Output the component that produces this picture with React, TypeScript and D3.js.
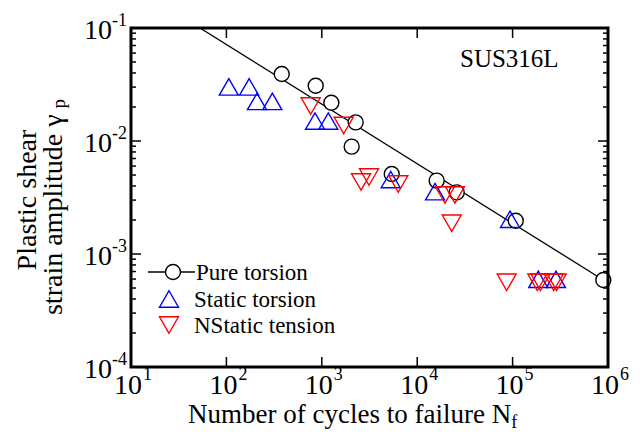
import React from 'react';
import * as d3 from 'd3';

// Pure torsion (circles)
const pureN = [380, 863, 1259, 2265, 2056, 5408, 16000, 25940, 107900, 893000];
const pureG = [0.0392, 0.0308, 0.0218, 0.01462, 0.00891, 0.0051, 0.00446, 0.00351, 0.00197, 0.000589];

// Static torsion (blue up triangles)
const staticTorN = [106, 173, 209, 303, 849, 1170, 5277, 15380, 94000, 185800, 285000];
const staticTorG = [0.0301, 0.0301, 0.0224, 0.0224, 0.01503, 0.01503, 0.00456, 0.00356, 0.00203, 0.000597, 0.000597];

// NStatic tension (red down triangles)
const staticTenN = [765, 1698, 2576, 3126, 6340, 19540, 24880, 23010, 86700, 181600, 196000, 270000, 290000];
const staticTenG = [0.0204, 0.01371, 0.00434, 0.0048, 0.00416, 0.00333, 0.00333, 0.00187, 0.000562, 0.000562, 0.000562, 0.000562, 0.000562];

// fitted line end points
const fitN = [52.8, 893000];
const fitG = [0.1, 0.000589];

const xTicks = [1e1, 1e2, 1e3, 1e4, 1e5, 1e6];
const xExp = ['1', '2', '3', '4', '5', '6'];
const yTicks = [1e-1, 1e-2, 1e-3, 1e-4];
const yExp = ['-1', '-2', '-3', '-4'];

const legendLabels = ['Pure torsion', 'Static torsion', 'NStatic tension'];

const W = 640;
const H = 434;
const L = 131, R = 608, T = 28, B = 367;
const FONT = 'Liberation Serif, Times New Roman, serif';

const x = d3.scaleLog().domain([10, 1e6]).range([L, R]);
const y = d3.scaleLog().domain([1e-4, 1e-1]).range([B, T]);

const TRI = 19; // side length
const th = (TRI * Math.sqrt(3)) / 2;
const upTri = (cx: number, cy: number) =>
  `M${cx},${cy - th / 2}L${cx + TRI / 2},${cy + th / 2}L${cx - TRI / 2},${cy + th / 2}Z`;
const downTri = (cx: number, cy: number) =>
  `M${cx},${cy + th / 2}L${cx + TRI / 2},${cy - th / 2}L${cx - TRI / 2},${cy - th / 2}Z`;

export default function App() {
  const minorY = y.ticks().filter((t) => !yTicks.some((m) => Math.abs(m - t) / m < 1e-6));
  const fitLine = d3
    .line<number>()
    .x((_, i) => x(fitN[i]))
    .y((_, i) => y(fitG[i]));

  return (
    <div style={{ position: 'absolute', left: 0, top: 0 }}>
      <svg width={W} height={H} style={{ display: 'block', background: '#fff', fontFamily: FONT }}>
        <defs>
          <clipPath id="plot">
            <rect x={L} y={T} width={R - L} height={B - T} />
          </clipPath>
        </defs>

        {/* ticks */}
        {xTicks.map((t, i) => (
          <g key={'xt' + i}>
            <line x1={x(t)} x2={x(t)} y1={B} y2={B - 10} stroke="#000" strokeWidth={1.5} />
            <line x1={x(t)} x2={x(t)} y1={T} y2={T + 10} stroke="#000" strokeWidth={1.5} />
          </g>
        ))}
        {yTicks.map((t, i) => (
          <g key={'yt' + i}>
            <line x1={L} x2={L + 10} y1={y(t)} y2={y(t)} stroke="#000" strokeWidth={1.5} />
            <line x1={R} x2={R - 10} y1={y(t)} y2={y(t)} stroke="#000" strokeWidth={1.5} />
          </g>
        ))}
        {minorY.map((t, i) => (
          <g key={'ym' + i}>
            <line x1={L} x2={L + 5} y1={y(t)} y2={y(t)} stroke="#000" strokeWidth={1.5} />
            <line x1={R} x2={R - 5} y1={y(t)} y2={y(t)} stroke="#000" strokeWidth={1.5} />
          </g>
        ))}

        {/* fitted line */}
        <path d={fitLine([0, 1]) || ''} fill="none" stroke="#000" strokeWidth={1.3} clipPath="url(#plot)" />

        {/* data */}
        {pureN.map((n, i) => (
          <circle key={'p' + i} cx={x(n)} cy={y(pureG[i])} r={7.5} fill="#fff" stroke="#000" strokeWidth={1.4} />
        ))}
        {staticTorN.map((n, i) => (
          <path key={'s' + i} d={upTri(x(n), y(staticTorG[i]))} fill="none" stroke="#0000ff" strokeWidth={1.4} />
        ))}
        {staticTenN.map((n, i) => (
          <path key={'n' + i} d={downTri(x(n), y(staticTenG[i]))} fill="none" stroke="#ff0000" strokeWidth={1.4} />
        ))}

        {/* frame */}
        <rect x={L} y={T} width={R - L} height={B - T} fill="none" stroke="#000" strokeWidth={3} />

        {/* x tick labels */}
        {xTicks.map((t, i) => (
          <g key={'xl' + i} fontSize={28}>
            <text x={x(t) - 3} y={B + 27} textAnchor="middle">10</text>
            <text x={x(t) + 12} y={B + 13} fontSize={18}>{xExp[i]}</text>
          </g>
        ))}
        {/* y tick labels */}
        {yTicks.map((t, i) => (
          <text key={'yl' + i} x={127} y={y(t) + 11} textAnchor="end" fontSize={28}>
            10<tspan fontSize={18} dy={-13}>{yExp[i]}</tspan>
          </text>
        ))}

        {/* axis titles */}
        <text x={188} y={423} fontSize={27}>
          Number of cycles to failure N<tspan fontSize={18} dy={5}>f</tspan>
        </text>
        <g transform="translate(36,200) rotate(-90)">
          <text x={0} y={0} textAnchor="middle" fontSize={28}>Plastic shear</text>
        </g>
        <g transform="translate(62,207) rotate(-90)">
          <text x={0} y={0} textAnchor="middle" fontSize={28}>
            strain amplitude γ<tspan fontSize={19} dx={6} dy={3}>p</tspan>
          </text>
        </g>

        {/* annotation */}
        <text x={460} y={67} fontSize={25}>SUS316L</text>

        {/* legend */}
        <g fontSize={23}>
          <line x1={148} x2={195} y1={272} y2={272} stroke="#000" strokeWidth={1.3} />
          <circle cx={173} cy={272} r={7.5} fill="#fff" stroke="#000" strokeWidth={1.4} />
          <text x={196} y={280}>{legendLabels[0]}</text>
          <path d={upTri(169, 299)} fill="none" stroke="#0000ff" strokeWidth={1.4} />
          <text x={194} y={307}>{legendLabels[1]}</text>
          <path d={downTri(169, 325)} fill="none" stroke="#ff0000" strokeWidth={1.4} />
          <text x={194} y={333}>{legendLabels[2]}</text>
        </g>
      </svg>
    </div>
  );
}
